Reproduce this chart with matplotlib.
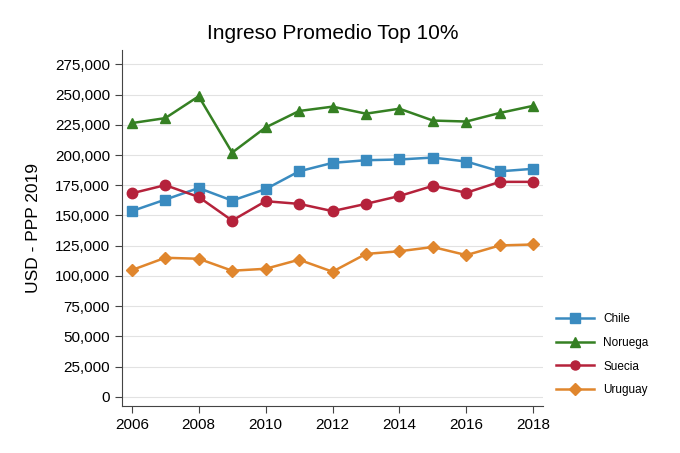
import matplotlib.pyplot as plt
from matplotlib.ticker import FuncFormatter

plt.rcParams['font.family'] = ['Liberation Sans', 'DejaVu Sans']

years = list(range(2006, 2019))
chile = [153600, 163100, 172700, 162300, 171800, 186500, 193500,
         195700, 196300, 197900, 194600, 186500, 188600]
noruega = [226400, 230500, 248600, 202000, 222800, 236400, 240000,
           234200, 238300, 228500, 227700, 234800, 240700]
suecia = [168300, 175100, 165300, 145800, 161800, 159600, 153600,
          159600, 166100, 174500, 168800, 177800, 177800]
uruguay = [104800, 115000, 114200, 104300, 105900, 113400, 103500,
           118200, 120400, 123900, 117200, 125200, 126000]

series = [
    ('Chile', chile, '#3a8bc0', 's'),
    ('Noruega', noruega, '#358023', '^'),
    ('Suecia', suecia, '#b5223b', 'o'),
    ('Uruguay', uruguay, '#e0862d', 'D'),
]

fig = plt.figure(figsize=(6.8, 4.53), dpi=100)
ax = fig.add_axes([0.179, 0.104, 0.62, 0.786])

for name, vals, col, mk in series:
    ms = 6.5 if mk == 'D' else 7.5
    ax.plot(years, vals, color=col, marker=mk, markersize=ms, linewidth=1.8,
            label=name)

ax.set_xlim(2005.7, 2018.3)
ax.set_ylim(-7500, 287000)
ax.set_xticks(range(2006, 2019, 2))
ax.set_yticks(range(0, 275001, 25000))
ax.yaxis.set_major_formatter(FuncFormatter(lambda v, p: f'{int(v):,}'))
ax.tick_params(labelsize=11, direction='out', length=5, color='#444444')
ax.grid(axis='y', color='#e2e2e2', linewidth=0.8)
ax.set_axisbelow(True)
for s in ['top', 'right']:
    ax.spines[s].set_visible(False)
for s in ['left', 'bottom']:
    ax.spines[s].set_color('#444444')

ax.set_title('Ingreso Promedio Top 10%', fontsize=15, pad=8)
ax.set_ylabel('USD - PPP 2019', fontsize=12.5, labelpad=10)

leg = ax.legend(loc='center left', bbox_to_anchor=(1.005, 0.144), frameon=False,
                fontsize=8.5, handlelength=3.2, labelspacing=1.0)
for h in leg.legend_handles:
    h.set_markersize(6.5 if h.get_marker() != 'D' else 5.8)

fig.savefig('out.png', dpi=100)
